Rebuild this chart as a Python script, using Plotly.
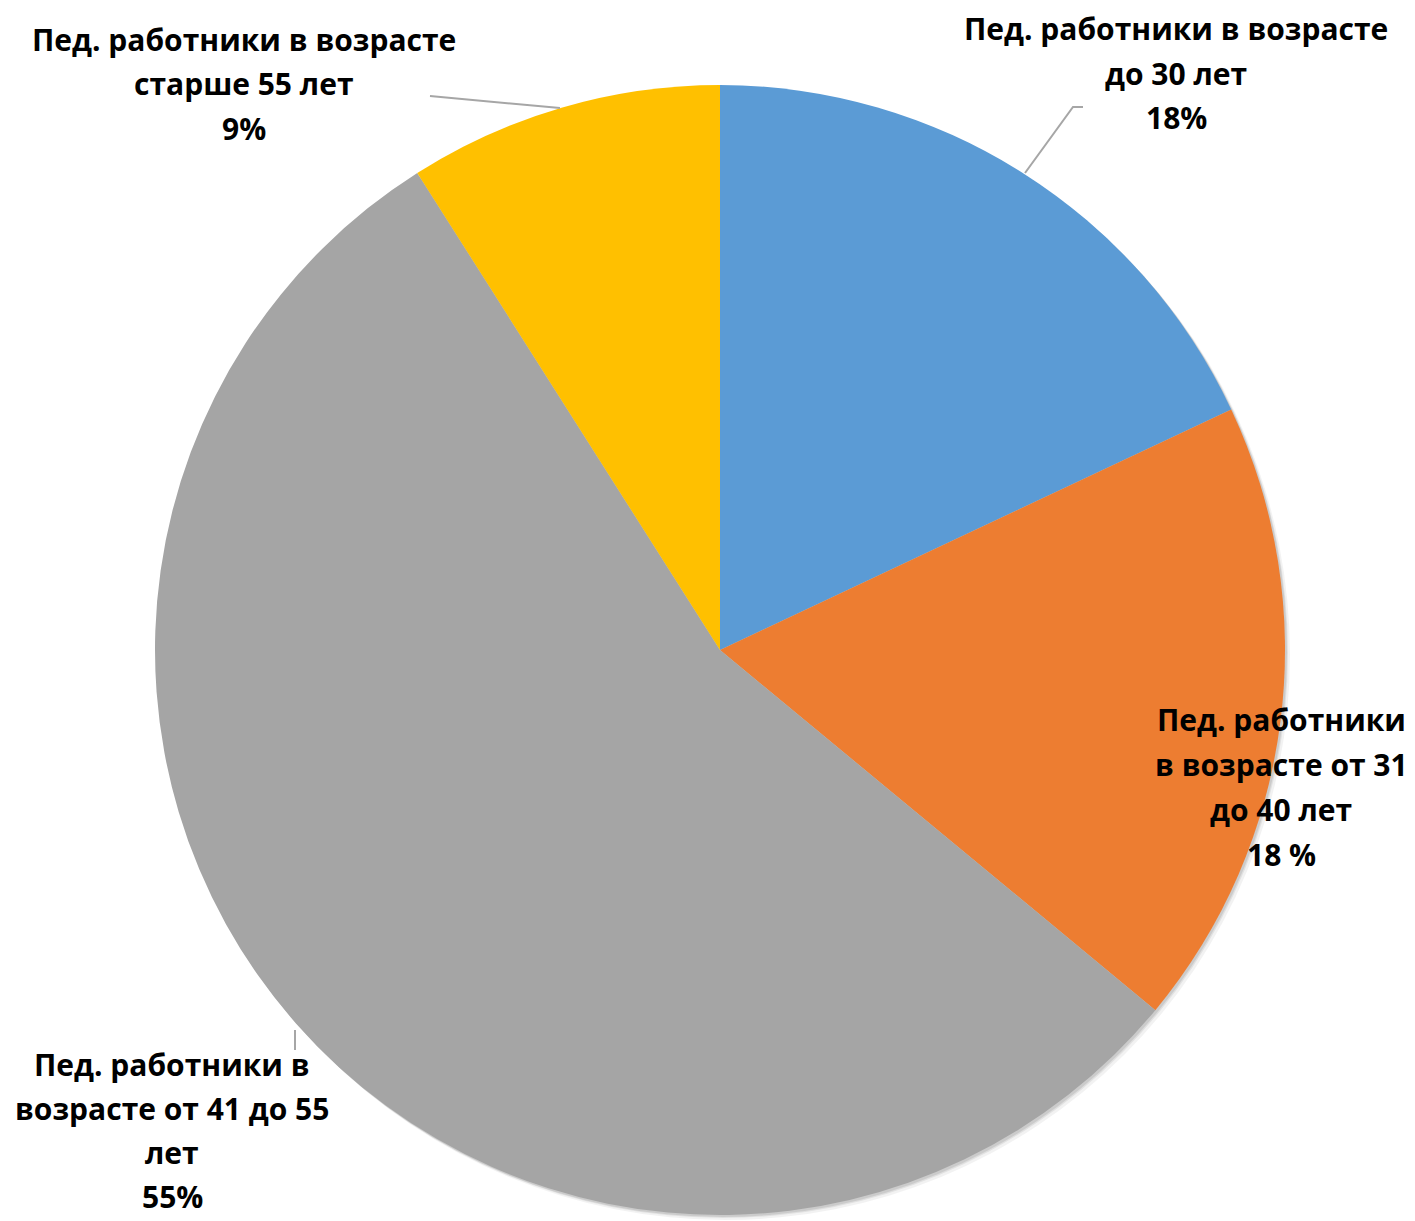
import plotly.graph_objects as go

# ---- data ----
categories = [
    "Пед. работники в возрасте до 30 лет",
    "Пед. работники в возрасте от 31 до 40 лет",
    "Пед. работники в возрасте от 41 до 55 лет",
    "Пед. работники в возрасте старше 55 лет",
]
values = [18, 18, 55, 9]
colors = ["#5B9BD5", "#ED7D31", "#A5A5A5", "#FFC000"]
label_lines = [
    ["Пед. работники в возрасте", "до 30 лет", "18%"],
    ["Пед. работники", "в возрасте от 31", "до 40 лет", "18 %"],
    ["Пед. работники в", "возрасте от 41 до 55", "лет", "55%"],
    ["Пед. работники в возрасте", "старше 55 лет", "9%"],
]

# ---- layout (pixels in the screenshot) ----
W, H = 1415, 1221
OFF = 8  # page body margin compensation
cx, cy, r = 720, 650, 565
label_pos = [(1176, 28), (1281, 719), (172, 1064), (244, 39)]  # centre x, first-line y
line_gaps = [45, 45, 44, 45]

def fx(x):
    return min(1, max(0, (x - OFF) / W))

def fy(y):
    return min(1, max(0, 1 - (y - OFF) / H))

fig = go.Figure()

# soft shadow (bottom-right)
for off, alpha in [(5, 0.05), (3, 0.07), (2, 0.09)]:
    fig.add_trace(go.Pie(
        values=[sum(values)],
        marker=dict(colors=[f"rgba(0,0,0,{alpha})"], line=dict(width=0)),
        textinfo="none", hoverinfo="skip", showlegend=False, sort=False,
        domain=dict(x=[fx(cx + off - r), fx(cx + off + r)],
                    y=[fy(cy + off + r), fy(cy + off - r)]),
    ))

fig.add_trace(go.Pie(
    labels=categories,
    values=values,
    marker=dict(colors=colors, line=dict(width=0)),
    sort=False,
    direction="clockwise",
    rotation=0,
    textinfo="none",
    showlegend=False,
    domain=dict(x=[fx(cx - r), fx(cx + r)], y=[fy(cy + r), fy(cy - r)]),
))

annotations = []
for lines, (lx, ly), gap in zip(label_lines, label_pos, line_gaps):
    for i, t in enumerate(lines):
        annotations.append(dict(
            text=f"<b>{t}</b>", x=(lx - OFF) / W, y=1 - (ly + i * gap - OFF) / H,
            xref="paper", yref="paper", xanchor="center", yanchor="middle",
            showarrow=False, borderpad=0,
            font=dict(family="Open Sans", size=30, color="#000000"),
        ))

# leader lines
leader = [
    [(1025, 173), (1073, 107), (1083, 107)],
    [(430, 96), (560, 108)],
    [(295, 1030), (295, 1050)],
]
shapes = []
for pts in leader:
    path = "M " + " L ".join(f"{(x - OFF) / W},{1 - (y - OFF) / H}" for x, y in pts)
    shapes.append(dict(type="path", path=path, xref="paper", yref="paper",
                       line=dict(color="#A6A6A6", width=2)))

fig.update_layout(
    width=W, height=H,
    margin=dict(l=0, r=0, t=0, b=0),
    paper_bgcolor="white", plot_bgcolor="white",
    annotations=annotations, shapes=shapes,
)

fig.write_html("out.html")
